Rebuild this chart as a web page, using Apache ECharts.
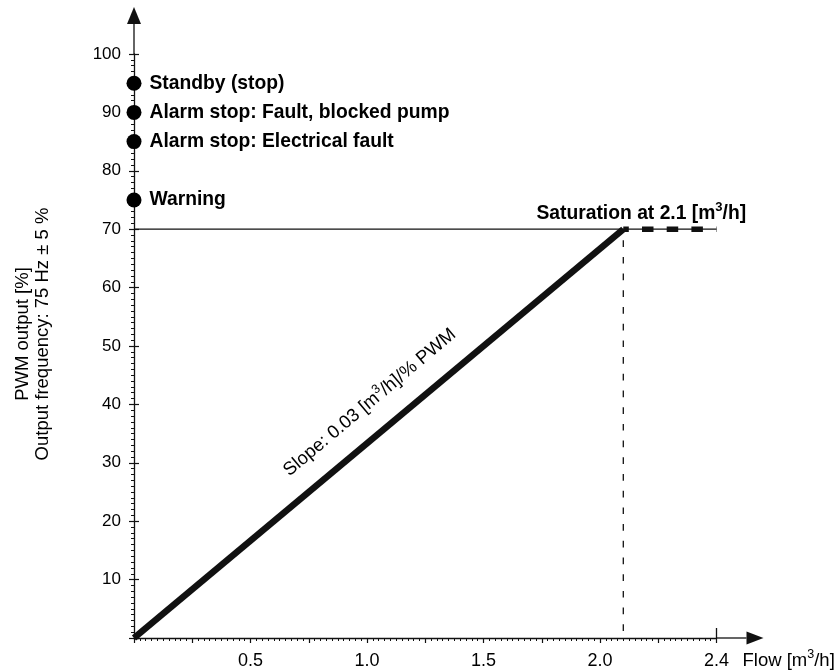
<!DOCTYPE html>
<html>
<head>
<meta charset="utf-8">
<title>PWM output vs. flow</title>
<script src="https://cdn.jsdelivr.net/npm/echarts@6/dist/echarts.min.js"></script>
<style>
  html, body { margin: 0; padding: 0; background: #fff; }
  #chart { width: 840px; height: 672px; }
</style>
</head>
<body>
<div id="chart"></div>
<script>
// Flow axis: tick positions and their printed labels (the end tick marks the 2.4 m³/h limit)
const flowTickValues = [0.5, 1.0, 1.5, 2.0, 2.5];
const flowTickLabels = ['0.5', '1.0', '1.5', '2.0', '2.4'];
const flowAxisEnd = 2.5;

// Status signals shown as fixed PWM levels
const statusLevels = [95, 90, 85, 75];
const statusNames = ['Standby (stop)', 'Alarm stop: Fault, blocked pump', 'Alarm stop: Electrical fault', 'Warning'];

// Linear ramp of PWM with flow, then saturation
const rampFlow = [0, 2.1];
const rampPwm = [0, 70];
const saturationFlow = [2.1, 2.5];
const saturationPwm = [70, 70];

// Rich-text strings: {rs|3} / {bs|3} is a superscript 3
const saturationLabel = '{b|Saturation at 2.1 [m}{bs|3}{b|/h]}';
const slopeLabel = '{r|Slope: 0.03 [m}{rs|3}{r|/h]/% PWM}';
const flowAxisName = '{r|Flow [m}{rs|3}{r|/h]}';

const FONT = '"Liberation Sans", Arial, Helvetica, sans-serif';
const INK = '#111';

const richStyles = {
  r: { fontSize: 18.5, fontFamily: FONT, color: '#000', lineHeight: 22, verticalAlign: 'bottom' },
  rs: { fontSize: 12.5, fontFamily: FONT, color: '#000', lineHeight: 22, verticalAlign: 'top' },
  b: { fontSize: 19.3, fontFamily: FONT, fontWeight: 'bold', color: '#000', lineHeight: 22, verticalAlign: 'bottom' },
  bs: { fontSize: 13, fontFamily: FONT, fontWeight: 'bold', color: '#000', lineHeight: 22, verticalAlign: 'top' }
};

const chart = echarts.init(document.getElementById('chart'), null, { renderer: 'canvas' });

const pairs = (xs, ys) => xs.map((x, i) => [x, ys[i]]);
const rampData = pairs(rampFlow, rampPwm);
const satData = pairs(saturationFlow, saturationPwm);

// Anchor for the slope text: a point on the ramp itself
const slopeAnchorFlow = 1.1;
const slopeAnchor = [slopeAnchorFlow, rampPwm[1] * slopeAnchorFlow / rampFlow[1]];

const option = {
  backgroundColor: '#fff',
  animation: false,
  grid: { left: 134, right: 123.5, top: 54, bottom: 34 },
  xAxis: [
    {
      type: 'value', min: 0, max: flowAxisEnd, interval: 0.25,
      axisLine: { show: true, lineStyle: { color: INK, width: 1.3 } },
      axisTick: { show: true, length: 5, lineStyle: { color: INK, width: 1.2 } },
      minorTick: { show: true, splitNumber: 10, length: 3, lineStyle: { color: INK, width: 1 } },
      splitLine: { show: false },
      axisLabel: {
        customValues: flowTickValues,
        margin: 14, color: '#000', fontSize: 18, fontFamily: FONT,
        formatter: v => {
          const i = flowTickValues.findIndex(t => Math.abs(t - v) < 1e-9);
          return i >= 0 ? flowTickLabels[i] : '';
        }
      },
      name: flowAxisName, nameLocation: 'end', nameGap: 26,
      nameTextStyle: { color: '#000', fontSize: 18, fontFamily: FONT, align: 'left', verticalAlign: 'top', padding: [10, 0, 0, 0], rich: richStyles }
    },
    {
      type: 'value', min: 0, max: flowAxisEnd, position: 'bottom',
      axisLine: { show: false },
      axisTick: { show: true, inside: true, length: 10, customValues: [flowAxisEnd], lineStyle: { color: INK, width: 1.3 } },
      axisLabel: { show: false }, splitLine: { show: false }
    }
  ],
  yAxis: [
    {
      type: 'value', min: 0, max: 100, interval: 10,
      axisLine: { show: true, lineStyle: { color: INK, width: 1.3 } },
      axisTick: { show: true, length: 5, lineStyle: { color: INK, width: 1.2 } },
      minorTick: { show: true, splitNumber: 10, length: 3, lineStyle: { color: INK, width: 1 } },
      splitLine: { show: false },
      axisLabel: {
        margin: 13, color: '#000', fontSize: 17, fontFamily: FONT,
        formatter: v => (v === 0 ? '' : String(v))
      }
    },
    {
      type: 'value', min: 0, max: 100, interval: 10, position: 'left',
      axisLine: { show: false },
      axisTick: { show: true, inside: true, length: 5, lineStyle: { color: INK, width: 1.2 } },
      axisLabel: { show: false }, splitLine: { show: false }
    }
  ],
  series: [
    {
      // saturation level reference line
      type: 'line', data: [[0, saturationPwm[0]], [flowAxisEnd, saturationPwm[1]]],
      symbol: 'none', clip: false, z: 2, silent: true,
      lineStyle: { color: INK, width: 1.3 }
    },
    {
      // drop line at the saturation flow
      type: 'line', data: [[saturationFlow[0], saturationPwm[0]], [saturationFlow[0], 0]],
      symbol: 'none', clip: false, z: 2, silent: true,
      lineStyle: { color: INK, width: 1.3, type: [6.7, 10], dashOffset: 5.7 }
    },
    {
      // PWM ramp
      type: 'line', data: rampData, symbol: 'none', clip: false, z: 4, silent: true,
      lineStyle: { color: INK, width: 6.5, cap: 'butt' }
    },
    {
      // saturated region
      type: 'line', data: satData, symbol: 'none', clip: false, z: 4, silent: true,
      lineStyle: { color: INK, width: 5.5, type: [11.5, 13.2], dashOffset: 6, cap: 'butt' }
    },
    {
      // status levels on the PWM axis
      type: 'scatter', clip: false, z: 6, silent: true,
      symbol: 'circle', symbolSize: 15,
      itemStyle: { color: '#000', opacity: 1 },
      data: statusLevels.map((v, i) => ({ value: [0, v], name: statusNames[i] })),
      label: {
        show: true, position: 'right', distance: 8,
        formatter: p => p.name,
        color: '#000', fontSize: 19.3, fontWeight: 'bold', fontFamily: FONT
      }
    },
    {
      // slope annotation along the ramp
      type: 'scatter', clip: false, z: 6, silent: true,
      symbolSize: 0, itemStyle: { opacity: 1 },
      data: [{ value: slopeAnchor }],
      label: {
        show: true, position: 'inside', rotate: 40, offset: [-2, -31],
        formatter: () => slopeLabel, rich: richStyles
      }
    },
    {
      // saturation annotation
      type: 'scatter', clip: false, z: 6, silent: true,
      symbolSize: 0, itemStyle: { opacity: 1 },
      data: [{ value: [saturationFlow[0], saturationPwm[0]] }],
      label: {
        show: true, position: 'top', distance: 6, offset: [18, 0],
        formatter: () => saturationLabel, rich: richStyles
      }
    }
  ]
};

chart.setOption(option);

// Axis extensions with arrow heads, plus the rotated PWM axis title
const origin = chart.convertToPixel({ gridIndex: 0 }, [0, 0]);
const yTop = chart.convertToPixel({ gridIndex: 0 }, [0, 100]);
const xEnd = chart.convertToPixel({ gridIndex: 0 }, [flowAxisEnd, 0]);
const ext = 30, head = 17, half = 7;

chart.setOption({
  graphic: [
    { type: 'line', shape: { x1: origin[0], y1: yTop[1], x2: origin[0], y2: yTop[1] - ext }, style: { stroke: INK, lineWidth: 1.3 }, z: 10 },
    { type: 'polygon', shape: { points: [[origin[0] - half, yTop[1] - ext], [origin[0] + half, yTop[1] - ext], [origin[0], yTop[1] - ext - head]] }, style: { fill: INK }, z: 10 },
    { type: 'line', shape: { x1: xEnd[0], y1: origin[1], x2: xEnd[0] + ext, y2: origin[1] }, style: { stroke: INK, lineWidth: 1.3 }, z: 10 },
    { type: 'polygon', shape: { points: [[xEnd[0] + ext, origin[1] - half + 0.5], [xEnd[0] + ext, origin[1] + half - 0.5], [xEnd[0] + ext + head, origin[1]]] }, style: { fill: INK }, z: 10 },
    {
      type: 'text', x: 33, y: 334, rotation: Math.PI / 2, z: 10,
      style: {
        text: 'PWM output [%]\nOutput frequency: 75 Hz ± 5 %',
        fill: '#000', fontSize: 18.5, fontFamily: FONT, lineHeight: 20,
        align: 'center', verticalAlign: 'middle'
      }
    }
  ]
});
</script>
</body>
</html>
